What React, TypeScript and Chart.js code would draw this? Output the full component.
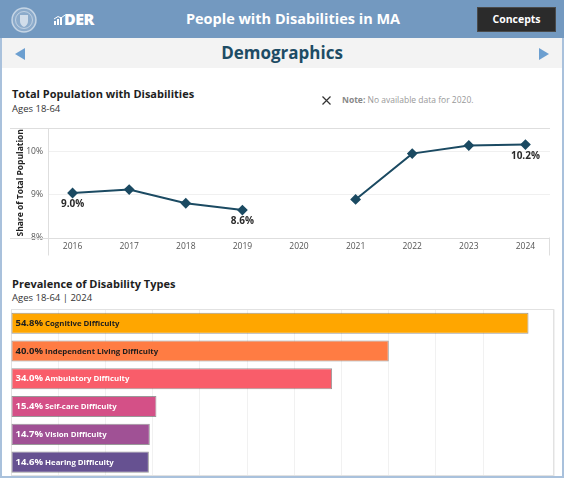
import React, { useEffect, useRef } from "react";
import { Chart, registerables } from "chart.js";
Chart.register(...registerables);

const FONT = "'Open Sans', 'Noto Sans', sans-serif";

// ---- Line chart data ----
const years = [2016, 2017, 2018, 2019, 2020, 2021, 2022, 2023, 2024];
const shares: (number | null)[] = [9.04, 9.12, 8.8, 8.64, null, 8.89, 9.96, 10.15, 10.17];
const shareLabels = ["9.0%", "", "", "8.6%", "", "", "", "", "10.2%"];

// ---- Bar chart data ----
const types = [
  "Cognitive Difficulty",
  "Independent Living Difficulty",
  "Ambulatory Difficulty",
  "Self-care Difficulty",
  "Vision Difficulty",
  "Hearing Difficulty",
];
const prevalence = [54.8, 40.0, 34.0, 15.4, 14.7, 14.6];
const typeColors = ["#FFA600", "#FF7C43", "#F95D6A", "#D45087", "#A05195", "#665191"];
const typeTextColors = ["#1e1e1e", "#1e1e1e", "#ffffff", "#ffffff", "#ffffff", "#ffffff"];

const lineFramePlugin = {
  id: "lineFrame",
  beforeDatasetsDraw(chart: any) {
    const { ctx, chartArea: a } = chart;
    ctx.save();
    ctx.strokeStyle = "#dedede";
    ctx.lineWidth = 1;
    ctx.beginPath();
    ctx.moveTo(0, Math.round(a.top) + 0.5);
    ctx.lineTo(a.right, Math.round(a.top) + 0.5);
    ctx.moveTo(0, Math.round(a.bottom) + 0.5);
    ctx.lineTo(a.right, Math.round(a.bottom) + 0.5);
    ctx.moveTo(Math.round(a.left) + 0.5, a.top);
    ctx.lineTo(Math.round(a.left) + 0.5, a.bottom + 18);
    ctx.moveTo(Math.round(a.right) - 0.5, a.bottom);
    ctx.lineTo(Math.round(a.right) - 0.5, a.bottom + 18);
    ctx.stroke();
    ctx.restore();
  },
  afterDatasetsDraw(chart: any) {
    const { ctx } = chart;
    const meta = chart.getDatasetMeta(0);
    ctx.save();
    ctx.font = `bold 10px ${FONT}`;
    ctx.fillStyle = "#2a2a2a";
    ctx.textAlign = "center";
    ctx.textBaseline = "middle";
    meta.data.forEach((pt: any, i: number) => {
      if (shareLabels[i] && shares[i] != null) ctx.fillText(shareLabels[i], pt.x, pt.y + 11.5);
    });
    ctx.restore();
  },
};

const barPlugin = {
  id: "barDeco",
  beforeDatasetsDraw(chart: any) {
    const { ctx, chartArea: a } = chart;
    ctx.save();
    ctx.strokeStyle = "#e2e2e2";
    ctx.lineWidth = 1;
    ctx.strokeRect(Math.round(a.left) + 0.5, Math.round(a.top) + 0.5, Math.round(a.right - a.left) - 1, Math.round(a.bottom - a.top) - 1);
    ctx.restore();
  },
  afterDatasetsDraw(chart: any) {
    const { ctx } = chart;
    const meta = chart.getDatasetMeta(0);
    ctx.save();
    ctx.textBaseline = "middle";
    ctx.textAlign = "left";
    meta.data.forEach((bar: any, i: number) => {
      const pct = prevalence[i].toFixed(1) + "%";
      ctx.fillStyle = typeTextColors[i];
      ctx.font = `bold 9.5px ${FONT}`;
      const x0 = bar.base + 4;
      ctx.fillText(pct, x0, bar.y);
      const w = ctx.measureText(pct).width;
      ctx.font = `bold 7.8px ${FONT}`;
      ctx.fillText(types[i], x0 + w + 2, bar.y + 0.5);
    });
    ctx.restore();
  },
};

function LineChart() {
  const ref = useRef<HTMLCanvasElement>(null);
  useEffect(() => {
    const chart = new Chart(ref.current!, {
      type: "line",
      data: {
        datasets: [
          {
            data: years.map((x, i) => ({ x, y: shares[i] })) as any,
            borderColor: "#1b4a62",
            backgroundColor: "#1b4a62",
            borderWidth: 2,
            pointStyle: "rectRot",
            pointRadius: 4,
            pointHoverRadius: 4,
            spanGaps: false,
            tension: 0,
          },
        ],
      },
      options: {
        animation: false,
        responsive: false,
        maintainAspectRatio: false,
        layout: { padding: { top: 5, right: 2, bottom: 3, left: 0 } },
        plugins: { legend: { display: false }, tooltip: { enabled: false } },
        scales: {
          x: {
            type: "linear",
            min: 2015.566,
            max: 2024.434,
            afterFit: (s: any) => {
              s.height = 17.5;
            },
            border: { display: false },
            grid: { display: false, drawTicks: false },
            ticks: {
              stepSize: 1,
              includeBounds: false,
              callback: (v: any) => String(v),
              color: "#555",
              font: { family: FONT, size: 8.5 },
              padding: 4,
              maxRotation: 0,
              autoSkip: false,
            },
          },
          y: {
            min: 8,
            max: 10.556,
            afterFit: (s: any) => {
              s.width = 38;
            },
            border: { display: false },
            grid: {
              color: (c: any) => (c.tick && c.tick.value === 8 ? "rgba(0,0,0,0)" : "#f0f0f0"),
              drawTicks: false,
            },
            ticks: {
              stepSize: 1,
              includeBounds: false,
              callback: (v: any) => v + "%",
              color: "#555",
              font: { family: FONT, size: 8.5 },
              padding: 5,
            },
            title: {
              display: true,
              text: "Share of Total Population",
              color: "#222",
              font: { family: FONT, size: 8.5, weight: "bold" },
              padding: { top: 5, bottom: 0 },
            },
          },
        },
      },
      plugins: [lineFramePlugin],
    } as any);
    return () => chart.destroy();
  }, []);
  return <canvas ref={ref} width={546} height={140} style={{ position: "absolute", left: 10, top: 118, width: 546, height: 140 }} />;
}

function BarChart() {
  const ref = useRef<HTMLCanvasElement>(null);
  useEffect(() => {
    const chart = new Chart(ref.current!, {
      type: "bar",
      data: {
        labels: types,
        datasets: [
          {
            data: prevalence,
            backgroundColor: typeColors,
            borderColor: "rgba(70,70,70,0.55)",
            borderWidth: 1,
            borderSkipped: false,
            barPercentage: 0.76,
            categoryPercentage: 1,
          },
        ],
      },
      options: {
        indexAxis: "y",
        animation: false,
        responsive: false,
        maintainAspectRatio: false,
        layout: { padding: { top: 4.3, right: 2, bottom: 1, left: 1 } },
        plugins: { legend: { display: false }, tooltip: { enabled: false } },
        scales: {
          x: {
            min: 0,
            max: 57.5,
            afterFit: (s: any) => {
              s.height = 0;
            },
            border: { display: false },
            grid: { color: "#f1f1f1", drawTicks: false },
            ticks: { display: false, stepSize: 5 },
          },
          y: { display: false },
        },
      },
      plugins: [barPlugin],
    } as any);
    return () => chart.destroy();
  }, []);
  return <canvas ref={ref} width={546} height={172} style={{ position: "absolute", left: 10, top: 305, width: 546, height: 172 }} />;
}

export default function App() {
  const abs = (s: React.CSSProperties): React.CSSProperties => ({ position: "absolute", ...s });
  return (
    <div style={abs({ left: 0, top: 0, width: 565, height: 493, background: "#fff", fontFamily: FONT, overflow: "hidden" })}>
      {/* outer frame */}
      <div style={abs({ left: 0, top: 0, width: 564, height: 478, boxSizing: "border-box", border: "2px solid #a9c1dc" })} />
      {/* header */}
      <div style={abs({ left: 0, top: 0, width: 564, height: 38, background: "#7399c0" })}>
        <svg width={30} height={30} style={{ position: "absolute", left: 9, top: 5 }} viewBox="0 0 30 30">
          <circle cx={15} cy={15} r={12} fill="rgba(255,255,255,0.18)" stroke="rgba(255,255,255,0.55)" strokeWidth={1.5} />
          <circle cx={15} cy={15} r={8.5} fill="none" stroke="rgba(255,255,255,0.45)" strokeWidth={1} />
          <path d="M11 10 L19 10 L19 16 Q19 20 15 22 Q11 20 11 16 Z" fill="rgba(255,255,255,0.6)" />
        </svg>
        <svg width={11} height={10} style={{ position: "absolute", left: 54, top: 15 }} viewBox="0 0 11 10">
          <rect x={0} y={6} width={2} height={4} fill="#fff" />
          <rect x={3} y={4} width={2} height={6} fill="#fff" />
          <rect x={6} y={2} width={2} height={8} fill="#fff" />
          <path d="M0 4 L4 1.5 L7 3 L11 0" stroke="#fff" strokeWidth={1} fill="none" />
        </svg>
        <div style={abs({ left: 64, top: 8, fontSize: 16, fontWeight: 800, color: "#fff", letterSpacing: -0.5, lineHeight: "22px" })}>DER</div>
        <div style={abs({ left: 160, width: 266, top: 9, textAlign: "center", fontSize: 14.5, fontWeight: 700, color: "#fff", lineHeight: "20px", whiteSpace: "nowrap" })}>
          People with Disabilities in MA
        </div>
        <div
          style={abs({
            left: 477,
            top: 7,
            width: 79,
            height: 25,
            boxSizing: "border-box",
            background: "#2b2b2b",
            border: "1px solid #4a4a4a",
            color: "#fff",
            fontSize: 10.5,
            fontWeight: 700,
            textAlign: "center",
            lineHeight: "23px",
          })}
        >
          Concepts
        </div>
      </div>
      {/* nav */}
      <div style={abs({ left: 2, top: 38, width: 560, height: 30, background: "#f3f3f3" })}>
        <svg width={10} height={12} style={{ position: "absolute", left: 13, top: 10 }} viewBox="0 0 10 12">
          <path d="M10 0 L0 6 L10 12 Z" fill="#6c9fd0" />
        </svg>
        <svg width={10} height={12} style={{ position: "absolute", left: 537, top: 10 }} viewBox="0 0 10 12">
          <path d="M0 0 L10 6 L0 12 Z" fill="#6c9fd0" />
        </svg>
        <div style={abs({ left: 0, width: 560, top: 3, textAlign: "center", fontSize: 17, fontWeight: 700, color: "#1d4c65", lineHeight: "24px" })}>
          Demographics
        </div>
      </div>
      {/* line chart titles */}
      <div style={abs({ left: 12, top: 86, fontSize: 11, fontWeight: 700, color: "#1e1e1e", lineHeight: "16px", whiteSpace: "nowrap" })}>
        Total Population with Disabilities
      </div>
      <div style={abs({ left: 12, top: 102, fontSize: 9.5, color: "#333", lineHeight: "13px", whiteSpace: "nowrap" })}>Ages 18-64</div>
      <svg width={9} height={9} style={{ position: "absolute", left: 322, top: 96 }} viewBox="0 0 9 9">
        <path d="M0.5 0.5 L8.5 8.5 M8.5 0.5 L0.5 8.5" stroke="#333" strokeWidth={1.2} />
      </svg>
      <div style={abs({ left: 342, top: 94, fontSize: 8.5, color: "#999", lineHeight: "12px", whiteSpace: "nowrap" })}>
        <span style={{ fontWeight: 700, color: "#888" }}>Note:</span> No available data for 2020.
      </div>
      <LineChart />
      {/* bar chart titles */}
      <div style={abs({ left: 12, top: 276, fontSize: 11, fontWeight: 700, color: "#1e1e1e", lineHeight: "16px", whiteSpace: "nowrap" })}>
        Prevalence of Disability Types
      </div>
      <div style={abs({ left: 12, top: 291, fontSize: 9.5, color: "#333", lineHeight: "13px", whiteSpace: "nowrap" })}>Ages 18-64 | 2024</div>
      <BarChart />
    </div>
  );
}
